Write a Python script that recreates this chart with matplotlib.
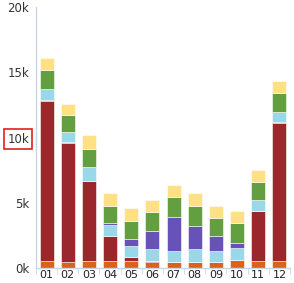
import numpy as np
import matplotlib
matplotlib.use("Agg")
import matplotlib.pyplot as plt
from matplotlib.ticker import FuncFormatter, FixedLocator

# months and stacked series (thousands), bottom to top
months = ["01", "02", "03", "04", "05", "06", "07", "08", "09", "10", "11", "12"]
orange = [0.50, 0.41, 0.51, 0.51, 0.51, 0.41, 0.44, 0.44, 0.44, 0.59, 0.51, 0.51]
dark_red = [12.30, 9.14, 6.17, 1.95, 0.28, 0.10, 0.0, 0.0, 0.0, 0.0, 3.84, 10.58]
blue = [0.08, 0.08, 0.0, 0.0, 0.0, 0.0, 0.0, 0.0, 0.0, 0.0, 0.0, 0.07]
light_blue = [0.87, 0.82, 1.03, 0.82, 0.87, 0.90, 0.87, 0.97, 0.84, 0.95, 0.85, 0.77]
purple = [0.0, 0.0, 0.0, 0.12, 0.52, 1.41, 2.56, 1.82, 1.18, 0.38, 0.0, 0.0]
green = [1.43, 1.28, 1.43, 1.36, 1.40, 1.43, 1.53, 1.53, 1.33, 1.54, 1.35, 1.46]
yellow = [0.95, 0.87, 1.02, 0.95, 1.03, 0.95, 0.95, 1.00, 0.95, 0.92, 0.95, 0.95]

series = [
    (orange, "#DC5A0C"),
    (dark_red, "#951B1F"),
    (blue, "#3F5FC8"),
    (light_blue, "#93D6E8"),
    (purple, "#5E49B6"),
    (green, "#5B9A37"),
    (yellow, "#FFE07C"),
]

fig = plt.figure(figsize=(2.94, 2.83), dpi=100)
ax = fig.add_axes([0.1224, 0.054, 0.864, 0.92])

x = np.arange(len(months))
bottom = np.zeros(len(months))
for vals, col in series:
    vals = np.array(vals) * 1000
    ax.bar(x, vals, width=0.66, bottom=bottom, color=col, edgecolor="white",
           linewidth=0.4, alpha=0.95)
    bottom += vals

ax.set_xlim(-0.5, len(months) - 0.5)
ax.set_ylim(0, 20000)
ax.set_yticks([0, 5000, 10000, 15000, 20000])
ax.yaxis.set_major_formatter(FuncFormatter(lambda v, p: f"{int(v / 1000)}k"))
ax.set_xticks(x)
ax.set_xticklabels(months)
ax.xaxis.set_minor_locator(FixedLocator(np.arange(-0.5, len(months), 1)))

for s in ["top", "right"]:
    ax.spines[s].set_visible(False)
for s in ["left", "bottom"]:
    ax.spines[s].set_color("#C8D6E6")
    ax.spines[s].set_linewidth(1)

ax.tick_params(axis="y", length=0, labelsize=8.5, labelcolor="#333333", pad=5)
ax.tick_params(axis="x", which="major", length=0, labelsize=8, labelcolor="#222222", pad=2)
ax.tick_params(axis="x", which="minor", length=4, color="#C8D6E6")

# highlighted label
for lbl in ax.get_yticklabels():
    if lbl.get_text() == "10k":
        lbl.set_bbox(dict(facecolor="none", edgecolor="#E0201E", linewidth=1.2, pad=2.5))

fig.savefig("out.png", dpi=100)
